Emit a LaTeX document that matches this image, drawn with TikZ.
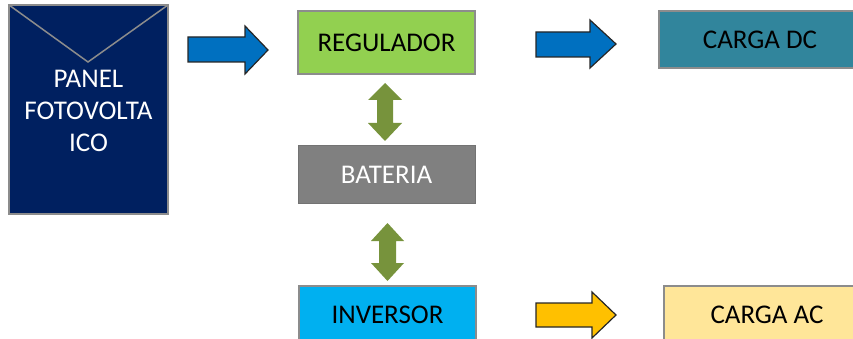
\documentclass[tikz,border=0pt]{standalone}
\usepackage{fontspec}
\setmainfont{Carlito}
\definecolor{navy}{HTML}{002060}
\definecolor{regc}{HTML}{92D050}
\definecolor{batc}{HTML}{808080}
\definecolor{invc}{HTML}{00B0F0}
\definecolor{dcc}{HTML}{31859C}
\definecolor{acc}{HTML}{FFE699}
\definecolor{bluearr}{HTML}{0070C0}
\definecolor{yelarr}{HTML}{FFC000}
\definecolor{grnarr}{HTML}{77933C}
\definecolor{edgec}{HTML}{8C8C8C}
\begin{document}
\begin{tikzpicture}[x=1pt,y=-1pt,
  box/.style={draw=edgec,line width=1.5pt,inner sep=0pt},
  lbl/.style={font=\fontsize{27}{32}\selectfont,align=center},
  barrow/.style={draw=black!85,line width=1.2pt,line join=miter},
  garrow/.style={fill=grnarr,draw=none}]
\useasboundingbox (0,0) rectangle (853,339);
% boxes
\draw[box,fill=navy] (9,5) rectangle (168,214);
\draw[edgec,line width=1.5pt] (9,5) -- (88,62) -- (168,5);
\node[lbl,text=white] (paneltxt) at (88.5,111) {PANEL\\FOTOVOLTA\\ICO};

\draw[box,fill=regc] (298,11) rectangle (475,74);
\node[lbl] (reg) at (386.5,42.5) {REGULADOR};

\draw[fill=batc,draw=batc!90!black,line width=1pt] (298,146) rectangle (475,203);
\node[lbl,text=white] (bat) at (386.5,174.5) {BATERIA};

\draw[box,fill=invc] (299,286) rectangle (476,350);
\node[lbl] (inv) at (387.5,315) {INVERSOR};

\draw[box,fill=dcc] (659,11) rectangle (870,68);
\node[lbl] (dc) at (760,39.5) {CARGA DC};

\draw[box,fill=acc] (664,286) rectangle (875,350);
\node[lbl] (ac) at (767,315) {CARGA AC};

% blue arrows
\draw[barrow,fill=bluearr] (188,37) -- (245,37) -- (245,26) -- (268,50) -- (245,74) -- (245,62) -- (188,62) -- cycle;
\draw[barrow,fill=bluearr] (536,32) -- (590,32) -- (590,20) -- (616,44) -- (590,68) -- (590,57) -- (536,57) -- cycle;
% yellow arrow
\draw[barrow,fill=yelarr] (536,303) -- (592,303) -- (592,292) -- (616,315) -- (592,338) -- (592,327) -- (536,327) -- cycle;
% green double arrows
\fill[garrow] (385,83) -- (402,100) -- (393,100) -- (393,123) -- (402,123) -- (385,141) -- (368,123) -- (377,123) -- (377,100) -- (368,100) -- cycle;
\fill[garrow] (387.5,223) -- (404,241) -- (396,241) -- (396,263) -- (404,263) -- (387.5,281) -- (371,263) -- (379,263) -- (379,241) -- (371,241) -- cycle;
\end{tikzpicture}
\end{document}
